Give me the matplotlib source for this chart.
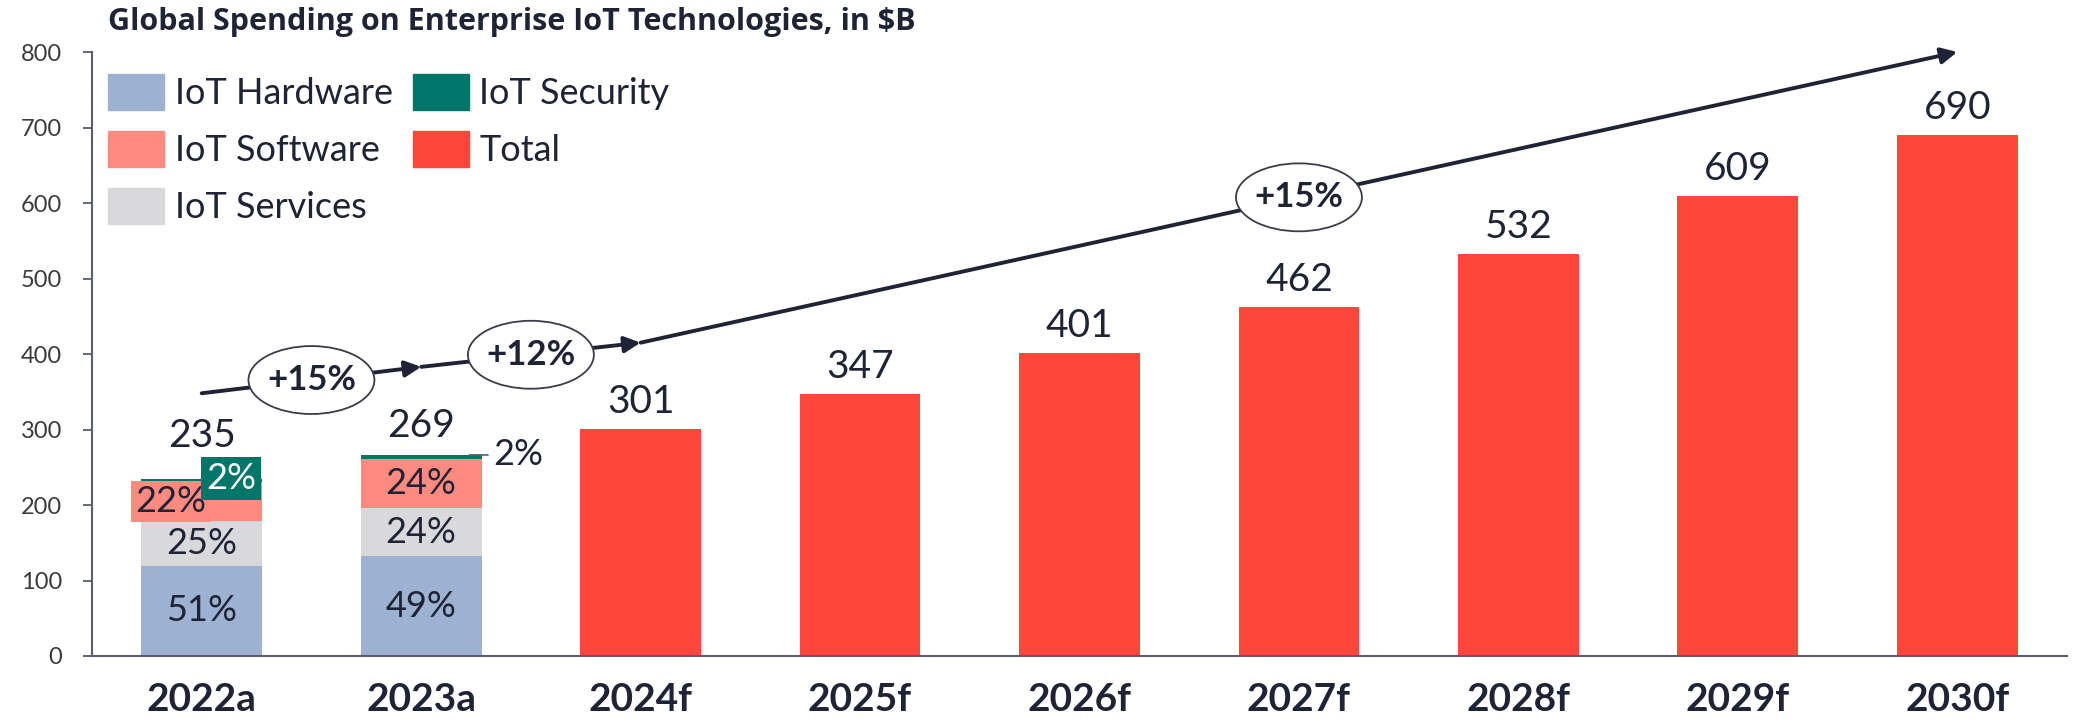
import numpy as np
import matplotlib
matplotlib.use('Agg')  # no display
import matplotlib.pyplot as plt
from matplotlib.patches import Ellipse, Patch

# --- data ---
years = ['2022a', '2023a', '2024f', '2025f', '2026f', '2027f', '2028f', '2029f', '2030f']
totals = [235, 269, 301, 347, 401, 462, 532, 609, 690]

# segment shares (%) for the two actual years
hw_pct = [51, 49]   # IoT Hardware
sv_pct = [25, 24]   # IoT Services
sw_pct = [22, 24]   # IoT Software
sec_pct = [2, 2]    # IoT Security

growth_labels = ['+15%', '+12%', '+15%']
growth_from = [0, 1, 2]          # category index where arrow starts
growth_to = [1, 2, 8]            # category index where arrow ends
growth_y = [348, 383, 415, 800]  # arrow heights (chart units) at start/ends

# --- style ---
c_hw = '#9db1d0'
c_sw = '#ff8a80'
c_sv = '#d9d9db'
c_sec = '#00766a'
c_tot = '#ff463a'
navy = '#1f2336'
axis_c = '#5a5d6b'

plt.rcParams['font.family'] = ['Lato', 'DejaVu Sans']

fig = plt.figure(figsize=(20.75, 7.21), dpi=100)
ax = fig.add_axes([92/2075, 1-656/721, (2067-92)/2075, (656-52)/721])

x = np.arange(len(years))
w = 0.55

# stacked bars for actual years
n_act = len(hw_pct)
tot_a = np.array(totals[:n_act], dtype=float)
hw = tot_a * np.array(hw_pct) / 100
sv = tot_a * np.array(sv_pct) / 100
sw = tot_a * np.array(sw_pct) / 100
sec = tot_a * np.array(sec_pct) / 100
xa = x[:n_act]
ax.bar(xa, hw, w, color=c_hw)
ax.bar(xa, sv, w, bottom=hw, color=c_sv)
ax.bar(xa, sw, w, bottom=hw+sv, color=c_sw)
ax.bar(xa, sec, w, bottom=hw+sv+sw, color=c_sec)

# forecast totals
ax.bar(x[n_act:], totals[n_act:], w, color=c_tot)

# value labels
for i, t in enumerate(totals):
    off = 23 if i == 0 else 11.5
    ax.annotate(str(t), (x[i], t), xytext=(0, off), textcoords='offset points',
                ha='center', va='baseline', fontsize=28, color=navy)

# percent labels inside stacks
pfs = 26
for i in range(n_act):
    ax.text(x[i], hw[i]/2, f'{hw_pct[i]}%', ha='center', va='center', fontsize=pfs, color=navy)
    ax.text(x[i], hw[i] + sv[i]/2, f'{sv_pct[i]}%', ha='center', va='center', fontsize=pfs, color=navy)

# 2022a: callout boxes for software and security
ax.text(x[0] - 0.14, hw[0] + sv[0] + sw[0]/2, f'{sw_pct[0]}%', ha='center', va='center',
        fontsize=pfs, color=navy,
        bbox=dict(boxstyle='square,pad=0.12', fc=c_sw, ec='none'))
ax.text(x[0] + 0.135, totals[0], f'{sec_pct[0]}%', ha='center', va='center',
        fontsize=pfs, color='white',
        bbox=dict(boxstyle='square,pad=0.14', fc=c_sec, ec='none'))

# 2023a: software inside, security outside with leader
ax.text(x[1], hw[1] + sv[1] + sw[1]/2, f'{sw_pct[1]}%', ha='center', va='center', fontsize=pfs, color=navy)
top1 = hw[1] + sv[1] + sw[1] + sec[1]
ax.annotate(f'{sec_pct[1]}%', xy=(x[1] + 0.22, top1), xytext=(x[1] + 0.33, top1),
            ha='left', va='center', fontsize=pfs, color=navy,
            arrowprops=dict(arrowstyle='-', color=axis_c, lw=1.2, shrinkA=2, shrinkB=0))

# growth arrows with ellipse labels
for k, lab in enumerate(growth_labels):
    x0, x1 = growth_from[k], growth_to[k]
    y0, y1 = growth_y[k], growth_y[k+1]
    ax.annotate('', xy=(x1, y1), xytext=(x0, y0),
                arrowprops=dict(arrowstyle='-|>', lw=2.8, color=navy,
                                mutation_scale=24, shrinkA=0, shrinkB=0), zorder=4)
    xm, ym = (x0 + x1) / 2, (y0 + y1) / 2
    ax.add_patch(Ellipse((xm, ym), 0.574, 90, fc='white', ec='#3a3d4a', lw=1.3, zorder=5))
    ax.text(xm, ym, lab, ha='center', va='center', fontsize=25, fontweight='bold',
            color=navy, zorder=6)

# axes
ax.set_xlim(-0.5, len(years) - 0.5)
ax.set_ylim(0, 800)
ax.set_yticks(range(0, 801, 100))
ax.set_xticks(x)
ax.set_xticklabels(years, fontsize=28, fontweight='bold', color=navy)
ax.tick_params(axis='x', length=0, pad=19)
ax.tick_params(axis='y', length=6.5, width=1.3, color=axis_c, labelsize=17,
               labelcolor='#3b3b3b', pad=15)
for s in ['top', 'right']:
    ax.spines[s].set_visible(False)
for s in ['left', 'bottom']:
    ax.spines[s].set_color(axis_c)
    ax.spines[s].set_linewidth(1.5)

# legend
handles = [Patch(color=c_hw, label='IoT Hardware'),
           Patch(color=c_sw, label='IoT Software'),
           Patch(color=c_sv, label='IoT Services'),
           Patch(color=c_sec, label='IoT Security'),
           Patch(color=c_tot, label='Total')]
leg = fig.legend(handles=handles, ncol=2, loc='upper left',
                 bbox_to_anchor=(108/2075, 1-74/721), frameon=False,
                 fontsize=26, handlelength=1.55, handleheight=1.14,
                 handletextpad=0.3, columnspacing=0.55, labelspacing=0.58,
                 borderpad=0, borderaxespad=0)
for t in leg.get_texts():
    t.set_color(navy)

fig.text(108/2075, 1-22/721, 'Global Spending on Enterprise IoT Technologies, in $B',
         ha='left', va='center', fontsize=22, fontweight='bold', color=navy,
         family=['Open Sans', 'DejaVu Sans'])

fig.savefig('out.png', dpi=100)
